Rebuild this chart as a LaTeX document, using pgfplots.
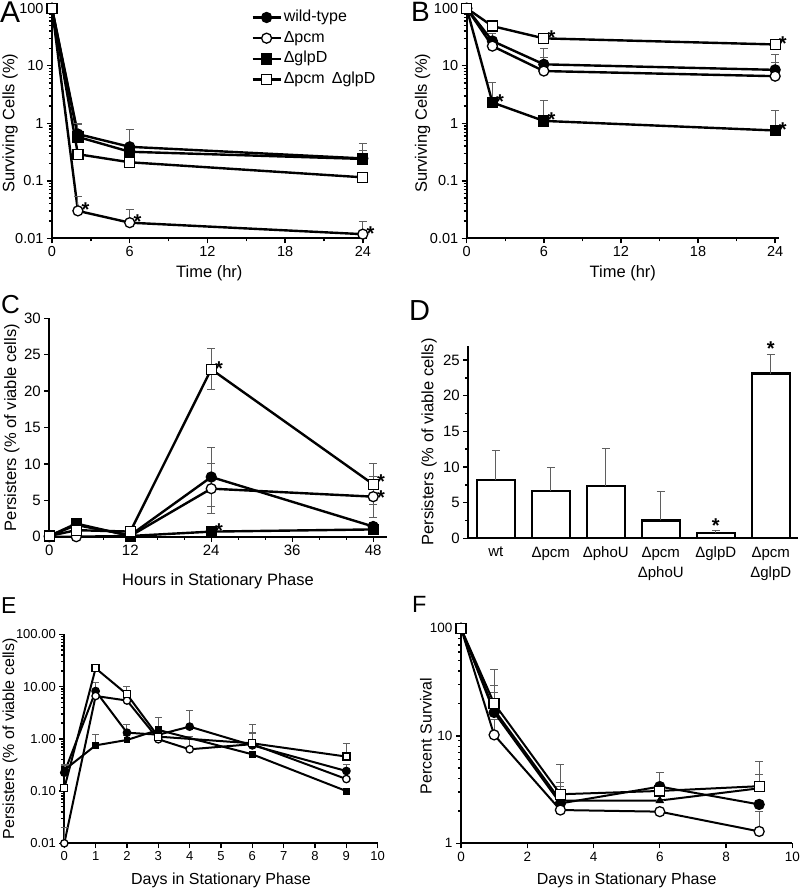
\documentclass[border=0pt]{standalone}
\usepackage{fontspec}
\setmainfont{Liberation Sans}
\usepackage{pgfplots}
\pgfplotsset{compat=1.18}
\definecolor{errgray}{RGB}{95,95,95}
\pgfplotsset{
  base/.style={scale only axis, anchor=south west, axis lines=left,
    axis line style={-, line width=2.1pt, black},
    tick align=outside, tick style={line width=1.4pt, black},
    major tick length=5pt, minor tick length=3pt,
    /pgf/number format/assume math mode=true, clip=false,
    tick label style={font=\fontsize{14.5}{16}\selectfont},
    label style={font=\fontsize{16.5}{18}\selectfont},
    every axis plot/.append style={line width=2.4pt, black}},
  swt/.style={black, mark=*, mark options={solid, fill=black, draw=black, line width=1.3pt}},
  spcm/.style={black, mark=*, mark options={solid, fill=white, draw=black, line width=1.3pt}},
  sglp/.style={black, mark=square*, mark options={solid, fill=black, draw=black, line width=1.3pt}},
  sboth/.style={black, mark=square*, mark options={solid, fill=white, draw=black, line width=1.3pt}},
  stri/.style={black, mark=triangle*, mark options={solid, fill=black, draw=black, line width=1pt}},
  errs/.style={error bars/.cd, y dir=plus, y explicit,
    error bar style={line width=1pt, color=errgray},
    error mark options={rotate=90, mark size=4pt, line width=1pt, color=errgray}},
  errsE/.style={error bars/.cd, y dir=plus, y explicit,
    error bar style={line width=1pt, color=errgray},
    error mark options={rotate=90, mark size=3.5pt, line width=1pt, color=errgray}},
  errsb/.style={error bars/.cd, y dir=both, y explicit,
    error bar style={line width=1pt, color=errgray},
    error mark options={rotate=90, mark size=4pt, line width=1pt, color=errgray}},
  logminor/.style={minor ytick={0.02,0.03,0.04,0.05,0.06,0.07,0.08,0.09,0.2,0.3,0.4,0.5,0.6,0.7,0.8,0.9,2,3,4,5,6,7,8,9,20,30,40,50,60,70,80,90}},
}
\tikzset{ast/.style={anchor=center, xshift=7.7pt, yshift=1pt, inner sep=0pt, font=\bfseries\fontsize{20}{20}\selectfont},
  astc/.style={anchor=center, yshift=-4.2pt, inner sep=0pt, font=\bfseries\fontsize{20}{20}\selectfont},
  letter/.style={anchor=base west, inner sep=0pt}}
\begin{document}
\begin{tikzpicture}[x=1pt,y=1pt]
\useasboundingbox (0,0) rectangle (800,-889);
% Panel letters
\node[letter, font=\fontsize{30}{30}\selectfont] at (0,-22) {A};
\node[letter, font=\fontsize{28}{28}\selectfont] at (411,-21) {B};
\node[letter, font=\fontsize{26}{26}\selectfont] at (1,-313) {C};
\node[letter, font=\fontsize{29}{29}\selectfont] at (409,-320) {D};
\node[letter, font=\fontsize{23}{23}\selectfont] at (1,-613) {E};
\node[letter, font=\fontsize{23.5}{23.5}\selectfont] at (412,-612) {F};

% ---------------- A
\begin{axis}[base, at={(52pt,-238.3pt)}, width=314.7pt, height=230pt,
  xmin=0, xmax=24.3, ymode=log, ymin=0.01, ymax=100,
  xtick={0,6,12,18,24}, minor x tick num=1,
  ytick={0.01,0.1,1,10,100}, yticklabels={0.01,0.1,1,10,100}, logminor,
  xlabel={Time (hr)}, ylabel={Surviving Cells (\%)},
  xlabel style={at={(axis description cs:0.5,-0.152)}, anchor=center},
  ylabel style={at={(axis description cs:-0.133,0.5)}, anchor=center},
  every axis plot/.append style={mark size=5pt},
  legend cell align=left,
  legend image code/.code={\draw[mark repeat=2,mark phase=2,#1] plot coordinates {(0pt,0pt)(14pt,0pt)(28pt,0pt)};},
  legend style={at={(axis description cs:0.633,1.0)}, anchor=north west, draw=none, fill=none,
    inner sep=0pt, row sep=2.7pt, font=\fontsize{16}{18}\selectfont,
    nodes={inner sep=2pt, text height=11pt, text depth=3pt}}]
\addplot[swt, errs] table[x=x,y=y,y error=e,row sep=\\]{x y e\\ 0 100 0\\ 2 0.65 0.3\\ 6 0.39 0.38\\ 24 0.245 0.2\\};
\addlegendentry{wild-type}
\addplot[spcm, errs] table[x=x,y=y,y error=e,row sep=\\]{x y e\\ 0 100 0\\ 2 0.030 0.023\\ 6 0.0187 0.013\\ 24 0.0118 0.008\\};
\addlegendentry{Δpcm}
\addplot[sglp, errs] table[x=x,y=y,y error=e,row sep=\\]{x y e\\ 0 100 0\\ 2 0.58 0.4\\ 6 0.32 0.05\\ 24 0.24 0.1\\};
\addlegendentry{ΔglpD}
\addplot[sboth, errs] table[x=x,y=y,y error=e,row sep=\\]{x y e\\ 0 100 0\\ 2 0.29 0.05\\ 6 0.21 0.03\\ 24 0.115 0.02\\};
\addlegendentry{Δpcm\, ΔglpD}
\node[ast] at (axis cs:2,0.030) {*};
\node[ast] at (axis cs:6,0.0187) {*};
\node[ast] at (axis cs:24,0.0118) {*};
\end{axis}

% ---------------- B
\begin{axis}[base, at={(466.7pt,-238.3pt)}, width=312.3pt, height=230pt,
  xmin=0, xmax=24.3, ymode=log, ymin=0.01, ymax=100,
  xtick={0,6,12,18,24}, minor x tick num=1,
  ytick={0.01,0.1,1,10,100}, yticklabels={0.01,0.1,1,10,100}, logminor,
  xlabel={Time (hr)}, ylabel={Surviving Cells (\%)},
  xlabel style={at={(axis description cs:0.5,-0.152)}, anchor=center},
  ylabel style={at={(axis description cs:-0.1415,0.5)}, anchor=center},
  every axis plot/.append style={mark size=5pt}]
\addplot[swt, errs] table[x=x,y=y,y error=e,row sep=\\]{x y e\\ 0 100 0\\ 2 27 10\\ 6 10.6 9.4\\ 24 8.5 7\\};
\addplot[spcm, errs] table[x=x,y=y,y error=e,row sep=\\]{x y e\\ 0 100 0\\ 2 22 4\\ 6 8.1 6\\ 24 6.6 5\\};
\addplot[sglp, errs] table[x=x,y=y,y error=e,row sep=\\]{x y e\\ 0 100 0\\ 2 2.3 2.8\\ 6 1.1 1.4\\ 24 0.75 0.95\\};
\addplot[sboth, errs] table[x=x,y=y,y error=e,row sep=\\]{x y e\\ 0 100 0\\ 2 49 2\\ 6 30 2\\ 24 23.5 2\\};
\node[ast] at (axis cs:6,30) {*};
\node[ast] at (axis cs:24,23.5) {*};
\node[ast] at (axis cs:2,2.3) {*};
\node[ast] at (axis cs:6,1.1) {*};
\node[ast] at (axis cs:24,0.75) {*};
\end{axis}

% ---------------- C
\begin{axis}[base, at={(49.3pt,-536.7pt)}, width=337.4pt, height=218.4pt,
  xmin=0, xmax=50, ymin=0, ymax=30,
  xtick={0,12,24,36,48}, minor x tick num=2, ytick={0,5,...,30},
  tick label style={font=\fontsize{15}{16}\selectfont},
  xlabel={Hours in Stationary Phase}, ylabel={Persisters (\% of viable cells)},
  xlabel style={at={(axis description cs:0.5,-0.206)}, anchor=center},
  ylabel style={at={(axis description cs:-0.111,0.5)}, anchor=center},
  every axis plot/.append style={mark size=5pt}]
\addplot[swt, errsb] table[x=x,y=y,y error=e,row sep=\\]{x y e\\ 0 0.1 0\\ 4 1.6 0.8\\ 12 0.2 0\\ 24 8.2 4.1\\ 48 1.4 0.5\\};
\addplot[spcm, errsb] table[x=x,y=y,y error=e,row sep=\\]{x y e\\ 0 0 0\\ 4 0.0 0\\ 12 0.1 0\\ 24 6.6 3.4\\ 48 5.5 2.8\\};
\addplot[sglp, errsb] table[x=x,y=y,y error=e,row sep=\\]{x y e\\ 0 0.1 0\\ 4 1.8 0.7\\ 12 0.1 0\\ 24 0.7 0.2\\ 48 1.0 0.4\\};
\addplot[sboth, errsb] table[x=x,y=y,y error=e,row sep=\\]{x y e\\ 0 0.1 0\\ 4 0.9 0\\ 12 0.7 0\\ 24 23.0 2.8\\ 48 7.2 2.8\\};
\node[ast] at (axis cs:24,23.0) {*};
\node[ast, yshift=1.5pt] at (axis cs:48,7.2) {*};
\node[ast, yshift=-2pt] at (axis cs:48,5.5) {*};
\node[ast] at (axis cs:24,0.7) {*};
\end{axis}

% ---------------- D
\begin{axis}[base, at={(468.3pt,-538.3pt)}, width=330pt, height=192.6pt,
  xmin=-0.5, xmax=5.5, ymin=0, ymax=27,
  ybar, bar width=37.7pt, bar shift=0pt,
  ytick={0,5,...,25}, minor y tick num=1,
  xtick={0,1,2,3,4,5},
  xticklabels={wt,Δpcm,ΔphoU,{Δpcm\\ΔphoU},ΔglpD,{Δpcm\\ΔglpD}},
  tick label style={font=\fontsize{15}{16}\selectfont},
  xticklabel style={align=center, font=\fontsize{15}{20}\selectfont},
  x tick style={draw=none},
  ylabel={Persisters (\% of viable cells)},
  ylabel style={at={(axis description cs:-0.119,0.5)}, anchor=center}]
\addplot[fill=white, draw=black, line width=2.2pt, errs] table[x=x,y=y,y error=e,row sep=\\]{x y e\\ 0 8.2 4.1\\ 1 6.65 3.3\\ 2 7.3 5.3\\ 3 2.5 4.0\\ 4 0.7 0.4\\ 5 23.1 2.7\\};
\node[astc] at (axis cs:4,2.4) {*};
\node[astc] at (axis cs:5,27.2) {*};
\end{axis}

% ---------------- E
\begin{axis}[base, at={(64.3pt,-843.3pt)}, width=313.4pt, height=209pt,
  xmin=0, xmax=10, ymode=log, ymin=0.01, ymax=100,
  xtick={0,1,...,10},
  ytick={0.01,0.1,1,10,100}, yticklabels={0.01,0.10,1.00,10.00,100.00},
  tick label style={font=\fontsize{13}{14}\selectfont},
  label style={font=\fontsize{16}{18}\selectfont},
  xlabel={Days in Stationary Phase}, ylabel={Persisters (\% of viable cells)},
  xlabel style={at={(axis description cs:0.5,-0.178)}, anchor=center},
  ylabel style={at={(axis description cs:-0.173,0.5)}, anchor=center},
  every axis plot/.append style={line width=2pt, mark size=3.7pt}]
\addplot[swt, errsE] table[x=x,y=y,y error=e,row sep=\\]{x y e\\ 0 0.225 0.1\\ 1 8.2 3.8\\ 2 1.31 0.6\\ 3 1.2 1.4\\ 4 1.71 1.8\\ 6 0.75 1.15\\ 9 0.242 0.08\\};
\addplot[spcm, errsE] table[x=x,y=y,y error=e,row sep=\\]{x y e\\ 0 0.01 0.01\\ 1 6.6 1.5\\ 2 5.4 0.5\\ 3 0.98 0.1\\ 4 0.63 0.47\\ 6 0.79 0.5\\ 9 0.17 0.1\\};
\addplot[sglp, mark size=2.8pt, errsE] table[x=x,y=y,y error=e,row sep=\\]{x y e\\ 0 0.253 0.05\\ 1 0.75 0.45\\ 2 0.95 0.2\\ 3 1.48 0.2\\ 6 0.505 0.05\\ 9 0.10 0\\};
\addplot[sboth, mark size=3.5pt, errsE] table[x=x,y=y,y error=e,row sep=\\]{x y e\\ 0 0.113 0\\ 1 22.4 0\\ 2 7.1 2.9\\ 3 1.1 0.3\\ 6 0.82 0.5\\ 9 0.457 0.37\\};
\end{axis}

% ---------------- F
\begin{axis}[base, at={(461pt,-843.3pt)}, width=331.3pt, height=215pt,
  xmin=0, xmax=10, ymode=log, ymin=1, ymax=100,
  xtick={0,2,...,10},
  ytick={1,10,100}, yticklabels={1,10,100},
  tick label style={font=\fontsize{13.5}{14}\selectfont},
  label style={font=\fontsize{16}{18}\selectfont},
  xlabel={Days in Stationary Phase}, ylabel={Percent Survival},
  xlabel style={at={(axis description cs:0.5,-0.171)}, anchor=center},
  ylabel style={at={(axis description cs:-0.106,0.5)}, anchor=center},
  every axis plot/.append style={line width=2pt, mark size=5pt}]
\addplot[stri, mark size=4pt, errs] table[x=x,y=y,y error=e,row sep=\\]{x y e\\ 0 100 0\\ 1 17.5 8\\ 3 2.5 1.2\\ 6 2.5 0\\ 9 3.25 1.1\\};
\addplot[swt, errs] table[x=x,y=y,y error=e,row sep=\\]{x y e\\ 0 100 0\\ 1 16.5 13\\ 3 2.35 1.05\\ 6 3.37 1.2\\ 9 2.3 0\\};
\addplot[spcm, errs] table[x=x,y=y,y error=e,row sep=\\]{x y e\\ 0 100 0\\ 1 10.2 4\\ 3 2.04 0\\ 6 1.97 0\\ 9 1.29 0.7\\};
\addplot[sboth, errs] table[x=x,y=y,y error=e,row sep=\\]{x y e\\ 0 100 0\\ 1 20 21\\ 3 2.86 2.5\\ 6 3.07 1.5\\ 9 3.4 2.4\\};
\end{axis}
\end{tikzpicture}
\end{document}
